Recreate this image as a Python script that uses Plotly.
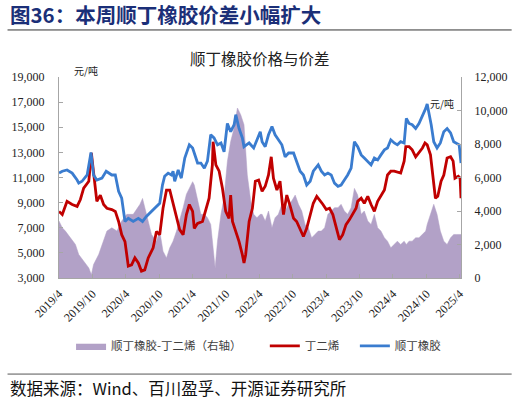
import plotly.graph_objects as go

# 顺丁橡胶 (BR) price, yuan/ton
br_dates = ["2019-04-01", "2019-04-19", "2019-05-15", "2019-06-12", "2019-07-09", "2019-07-18", "2019-08-05",
            "2019-09-02", "2019-09-23", "2019-10-07", "2019-10-25", "2019-11-22", "2019-12-15", "2020-01-15",
            "2020-02-03", "2020-02-21", "2020-03-09", "2020-03-27", "2020-04-14", "2020-05-11", "2020-06-08",
            "2020-07-01", "2020-07-22", "2020-08-19", "2020-09-15", "2020-10-03", "2020-10-18", "2020-10-30",
            "2020-11-18", "2020-12-06", "2020-12-15", "2020-12-24", "2021-01-12", "2021-01-29", "2021-02-17",
            "2021-03-14", "2021-04-01", "2021-04-28", "2021-05-16", "2021-06-04", "2021-06-21", "2021-07-09",
            "2021-07-27", "2021-08-15", "2021-09-03", "2021-09-20", "2021-10-08", "2021-10-26", "2021-11-14",
            "2021-11-23", "2021-12-11", "2021-12-29", "2022-01-07", "2022-02-04", "2022-03-01", "2022-03-19",
            "2022-04-06", "2022-04-16", "2022-05-03", "2022-05-21", "2022-06-09", "2022-06-26", "2022-07-14",
            "2022-08-02", "2022-08-20", "2022-09-08", "2022-10-05", "2022-10-22", "2022-11-10", "2022-11-28",
            "2022-12-16", "2023-01-04", "2023-01-21", "2023-02-17", "2023-03-06", "2023-03-24", "2023-04-11",
            "2023-04-29", "2023-05-17", "2023-06-05", "2023-06-22", "2023-07-10", "2023-07-28", "2023-08-16",
            "2023-09-03", "2023-09-21", "2023-10-10", "2023-10-27", "2023-11-15", "2023-12-03", "2023-12-21",
            "2024-01-08", "2024-01-26", "2024-02-14", "2024-03-02", "2024-03-20", "2024-04-08", "2024-04-25",
            "2024-05-13", "2024-06-01", "2024-06-13", "2024-06-28", "2024-07-15", "2024-08-03", "2024-08-21",
            "2024-09-09", "2024-09-27", "2024-10-05", "2024-10-14", "2024-10-27", "2024-11-10", "2024-11-28",
            "2024-12-16", "2025-01-04", "2025-01-22", "2025-02-10", "2025-02-27", "2025-03-15", "2025-03-29",
            "2025-04-08"]
br_price = [11350, 11500, 11600, 11350, 10800, 10550, 10700, 11200, 13000, 11200, 10800, 10950, 11500, 11200,
            11200, 9900, 9350, 7500, 7750, 7500, 7750, 7500, 7900, 8300, 8700, 8950, 10400, 11100, 11350, 11200,
            11500, 10700, 11600, 10950, 12550, 13600, 13350, 12150, 12150, 11750, 12300, 14400, 14150, 13600,
            13750, 13050, 15300, 14650, 15200, 16000, 14900, 14150, 13450, 13750, 13350, 14000, 14650, 13850,
            13450, 14400, 15050, 14400, 14000, 13600, 12650, 12950, 12950, 12300, 11500, 11200, 10400, 10700,
            11500, 12000, 11500, 11200, 11350, 11200, 10550, 10300, 10400, 10800, 11200, 11750, 13850, 13450,
            12800, 12550, 12300, 12000, 12550, 12400, 12800, 13200, 13350, 14000, 13750, 13600, 13850, 13750,
            15700, 15300, 15200, 14900, 15300, 15850, 16500, 16850, 16250, 15200, 13850, 13350, 13750, 14650,
            14900, 14550, 13850, 13750, 13600, 12150]

# 丁二烯 (BD) price, yuan/ton
bd_dates = ["2019-04-01", "2019-04-19", "2019-05-15", "2019-06-12", "2019-07-09", "2019-07-27", "2019-08-14",
            "2019-09-11", "2019-09-25", "2019-10-07", "2019-10-25", "2019-11-13", "2019-12-01", "2019-12-19",
            "2020-01-15", "2020-02-03", "2020-02-21", "2020-03-09", "2020-03-27", "2020-04-14", "2020-05-02",
            "2020-05-20", "2020-06-08", "2020-06-25", "2020-07-13", "2020-08-01", "2020-08-28", "2020-09-15",
            "2020-10-03", "2020-10-21", "2020-11-09", "2020-11-27", "2020-12-15", "2021-01-03", "2021-01-20",
            "2021-02-08", "2021-02-26", "2021-03-14", "2021-04-01", "2021-04-10", "2021-04-28", "2021-05-25",
            "2021-06-13", "2021-06-30", "2021-07-18", "2021-07-22", "2021-08-06", "2021-08-24", "2021-09-11",
            "2021-09-29", "2021-10-17", "2021-10-26", "2021-11-05", "2021-11-23", "2021-12-11", "2021-12-29",
            "2022-01-07", "2022-01-16", "2022-02-04", "2022-02-22", "2022-03-10", "2022-03-28", "2022-04-16",
            "2022-05-03", "2022-05-21", "2022-06-05", "2022-06-17", "2022-07-06", "2022-07-23", "2022-08-11",
            "2022-08-29", "2022-09-17", "2022-10-05", "2022-10-22", "2022-11-10", "2022-11-28", "2022-12-16",
            "2023-01-04", "2023-01-21", "2023-02-09", "2023-02-26", "2023-03-15", "2023-04-02", "2023-04-20",
            "2023-05-08", "2023-05-26", "2023-06-13", "2023-07-01", "2023-07-19", "2023-08-07", "2023-08-25",
            "2023-09-12", "2023-09-21", "2023-10-10", "2023-10-27", "2023-11-15", "2023-12-03", "2023-12-21",
            "2024-01-08", "2024-01-26", "2024-02-14", "2024-03-02", "2024-03-20", "2024-04-08", "2024-05-13",
            "2024-06-01", "2024-06-10", "2024-06-28", "2024-07-15", "2024-08-03", "2024-08-21", "2024-09-09",
            "2024-09-23", "2024-10-05", "2024-10-23", "2024-11-05", "2024-11-19", "2024-12-02", "2024-12-20",
            "2025-01-04", "2025-01-22", "2025-02-10", "2025-02-24", "2025-03-06", "2025-03-24", "2025-04-03",
            "2025-04-08"]
bd_price = [8300, 8050, 9100, 8850, 8700, 9250, 10150, 10700, 12950, 11200, 9100, 9600, 8850, 8550, 8450, 8300,
            7500, 6450, 5900, 3950, 4050, 4600, 4200, 3550, 3650, 4600, 5400, 6700, 6450, 8550, 10000, 10000, 8950,
            8050, 6850, 6450, 8050, 8850, 8300, 6950, 7350, 7500, 8450, 9350, 12000, 13850, 12000, 11500, 10150,
            8300, 7750, 9600, 7500, 6700, 5900, 4850, 4200, 4850, 7500, 8550, 10700, 10800, 9900, 10300, 11200,
            12650, 10950, 10000, 10700, 8050, 9600, 8700, 7750, 7500, 6950, 6300, 6950, 8050, 8950, 9500, 9200,
            8850, 8450, 8550, 8050, 6950, 6050, 6450, 7250, 7650, 8050, 8550, 9100, 9350, 8950, 9500, 8850, 8300,
            9100, 9600, 10000, 11200, 11500, 11500, 11350, 12300, 13450, 13450, 13200, 12650, 12950, 13350, 13750,
            13600, 12800, 11200, 9350, 9500, 10700, 11200, 12550, 12650, 12300, 10950, 11100, 10950, 9350]

# 顺丁橡胶-丁二烯 spread (right axis), yuan/ton
spread_dates = ["2019-04-01", "2019-04-19", "2019-05-06", "2019-06-03", "2019-06-30", "2019-07-18", "2019-08-14",
                "2019-09-11", "2019-09-25", "2019-10-07", "2019-11-04", "2019-12-01", "2019-12-19", "2020-01-15",
                "2020-02-12", "2020-03-09", "2020-04-06", "2020-05-11", "2020-06-17", "2020-07-01", "2020-07-22",
                "2020-08-19", "2020-09-15", "2020-10-03", "2020-10-21", "2020-11-09", "2020-11-27", "2020-12-15",
                "2021-01-03", "2021-01-20", "2021-02-08", "2021-02-26", "2021-03-14", "2021-04-01", "2021-04-10",
                "2021-04-28", "2021-05-16", "2021-06-04", "2021-06-21", "2021-07-09", "2021-07-22", "2021-08-02",
                "2021-08-15", "2021-09-03", "2021-09-20", "2021-10-08", "2021-10-26", "2021-11-14", "2021-12-02",
                "2021-12-20", "2022-01-07", "2022-01-25", "2022-02-13", "2022-03-01", "2022-03-19", "2022-04-06",
                "2022-04-16", "2022-05-03", "2022-05-21", "2022-06-09", "2022-06-26", "2022-07-14", "2022-08-02",
                "2022-08-20", "2022-09-08", "2022-09-25", "2022-10-14", "2022-11-01", "2022-11-19", "2022-12-07",
                "2022-12-25", "2023-01-12", "2023-01-30", "2023-02-17", "2023-03-06", "2023-03-24", "2023-04-11",
                "2023-04-29", "2023-05-17", "2023-06-05", "2023-06-22", "2023-07-10", "2023-07-28", "2023-08-16",
                "2023-09-03", "2023-09-21", "2023-10-10", "2023-10-27", "2023-11-15", "2023-12-03", "2023-12-21",
                "2024-01-08", "2024-01-26", "2024-02-14", "2024-03-02", "2024-03-20", "2024-04-08", "2024-04-25",
                "2024-05-13", "2024-06-01", "2024-06-13", "2024-06-28", "2024-07-15", "2024-08-03", "2024-08-21",
                "2024-09-09", "2024-09-27", "2024-10-05", "2024-10-23", "2024-11-10", "2024-11-28", "2024-12-16",
                "2025-01-04", "2025-01-22", "2025-02-10", "2025-02-27", "2025-03-15", "2025-04-08"]
spread_values = [3400, 3000, 2800, 2400, 2000, 1400, 1000, 600, 200, 800, 1400, 2200, 2800, 3000, 2800, 3400,
                 3800, 3800, 4400, 4750, 3800, 2600, 2200, 2800, 1600, 1200, 1800, 2200, 2800, 3400, 4200, 5000,
                 5400, 5750, 5550, 4600, 3800, 3800, 3600, 3200, 1800, 600, 2200, 3800, 4800, 6950, 8150, 8950,
                 10150, 9750, 9150, 6150, 4600, 3800, 3600, 3800, 3800, 3400, 4000, 3000, 3600, 3800, 4400, 4000,
                 4400, 4600, 4950, 4400, 4000, 3200, 3000, 2400, 2600, 2800, 2800, 3000, 3800, 4000, 4200, 4200,
                 4400, 4000, 3800, 4200, 5350, 4950, 3800, 4000, 3400, 3200, 3800, 3000, 2800, 2400, 2200, 1800,
                 2000, 2200, 2000, 2200, 2000, 2200, 2200, 2400, 2400, 2600, 2800, 3200, 3800, 4400, 3800, 2800,
                 2200, 2000, 2400, 2600, 2600, 2600]

tick_dates = ["2019-04-01", "2019-10-01", "2020-04-01", "2020-10-01", "2021-04-01", "2021-10-01", "2022-04-01",
              "2022-10-01", "2023-04-01", "2023-10-01", "2024-04-01", "2024-10-01", "2025-04-01"]
tick_labels = ["2019/4", "2019/10", "2020/4", "2020/10", "2021/4", "2021/10", "2022/4",
               "2022/10", "2023/4", "2023/10", "2024/4", "2024/10", "2025/4"]

serif = "Liberation Serif, Noto Sans CJK SC"
cjk = "Noto Sans CJK SC"

fig = go.Figure()
# spread sits on the primary axis so the price lines (y2) are drawn above it
fig.add_trace(go.Scatter(x=spread_dates, y=spread_values, name="顺丁橡胶-丁二烯（右轴）",
                         mode="lines", line=dict(width=0.5, color="#B2A1C7"),
                         fill="tozeroy", fillcolor="#B2A1C7", yaxis="y", showlegend=True, legend="legend"))
fig.add_trace(go.Scatter(x=bd_dates, y=bd_price, name="丁二烯", mode="lines",
                         line=dict(color="#C00000", width=2.8), yaxis="y2", showlegend=True, legend="legend2"))
fig.add_trace(go.Scatter(x=br_dates, y=br_price, name="顺丁橡胶", mode="lines",
                         line=dict(color="#3A7CCF", width=2.8), yaxis="y2", showlegend=True, legend="legend3"))

axis_grey = "#A6A6A6"
leg_font = dict(family=cjk, size=11.5, color="#404040")
fig.update_layout(
    width=519, height=404,
    showlegend=True,
    margin=dict(l=57, r=57, t=77, b=126),
    paper_bgcolor="white", plot_bgcolor="white",
    xaxis=dict(type="date", range=["2019-04-01", "2025-04-08"], tickvals=tick_dates, ticktext=tick_labels,
               tickangle=-45, tickfont=dict(family=serif, size=12, color="#222222"),
               showline=True, linecolor=axis_grey, ticks="inside", ticklen=4, tickcolor=axis_grey,
               ticklabelstandoff=3, showgrid=False, zeroline=False),
    yaxis=dict(side="right", range=[0, 12000], dtick=2000, tickformat=",",
               tickfont=dict(family=serif, size=12, color="#222222"),
               showline=True, linecolor=axis_grey, ticks="inside", ticklen=4, tickcolor=axis_grey,
               ticklabelstandoff=10, showgrid=False, zeroline=False),
    yaxis2=dict(side="left", overlaying="y", range=[3000, 19000], tick0=3000, dtick=2000, tickformat=",",
                tickfont=dict(family=serif, size=12, color="#222222"),
                showline=True, linecolor=axis_grey, ticks="inside", ticklen=4, tickcolor=axis_grey,
                ticklabelstandoff=11, showgrid=False, zeroline=False),
    legend=dict(x=0.03, y=-0.338, xanchor="left", yanchor="middle", font=leg_font, itemwidth=30,
                bgcolor="rgba(0,0,0,0)", visible=True),
    legend2=dict(x=0.512, y=-0.338, xanchor="left", yanchor="middle", font=leg_font, itemwidth=30,
                 bgcolor="rgba(0,0,0,0)"),
    legend3=dict(x=0.736, y=-0.338, xanchor="left", yanchor="middle", font=leg_font, itemwidth=30,
                 bgcolor="rgba(0,0,0,0)"),
    shapes=[
        dict(type="line", xref="paper", yref="paper", x0=-0.128, x1=1.126, y0=1.234, y1=1.234,
             line=dict(color="#333333", width=1)),
        dict(type="line", xref="paper", yref="paper", x0=-0.128, x1=1.126, y0=-0.478, y1=-0.478,
             line=dict(color="#555555", width=1)),
    ],
    annotations=[
        dict(text="<b>图36：本周顺丁橡胶价差小幅扩大</b>", xref="paper", yref="paper", x=-0.128, y=1.313,
             xanchor="left", yanchor="middle", showarrow=False,
             font=dict(family=cjk, size=20.5, color="#1B2F78")),
        dict(text="顺丁橡胶价格与价差", xref="paper", yref="paper", x=0.501, y=1.095,
             xanchor="center", yanchor="middle", showarrow=False,
             font=dict(family=cjk, size=15.5, color="#222222")),
        dict(text="元/吨", xref="paper", yref="paper", x=0.067, y=1.03,
             xanchor="center", yanchor="middle", showarrow=False,
             font=dict(family=cjk, size=10, color="#222222")),
        dict(text="元/吨", xref="paper", yref="paper", x=0.953, y=0.866,
             xanchor="center", yanchor="middle", showarrow=False,
             font=dict(family=cjk, size=10, color="#222222")),
        dict(text="数据来源：Wind、百川盈孚、开源证券研究所", xref="paper", yref="paper", x=-0.128, y=-0.547,
             xanchor="left", yanchor="middle", showarrow=False,
             font=dict(family=cjk, size=16.5, color="#111111")),
    ],
)

# the page body has a default 8px margin; drop it so the figure sits at the window's corner
fig.write_html("out.html", config={"displayModeBar": False},
               post_script="document.body.style.margin='0';")
